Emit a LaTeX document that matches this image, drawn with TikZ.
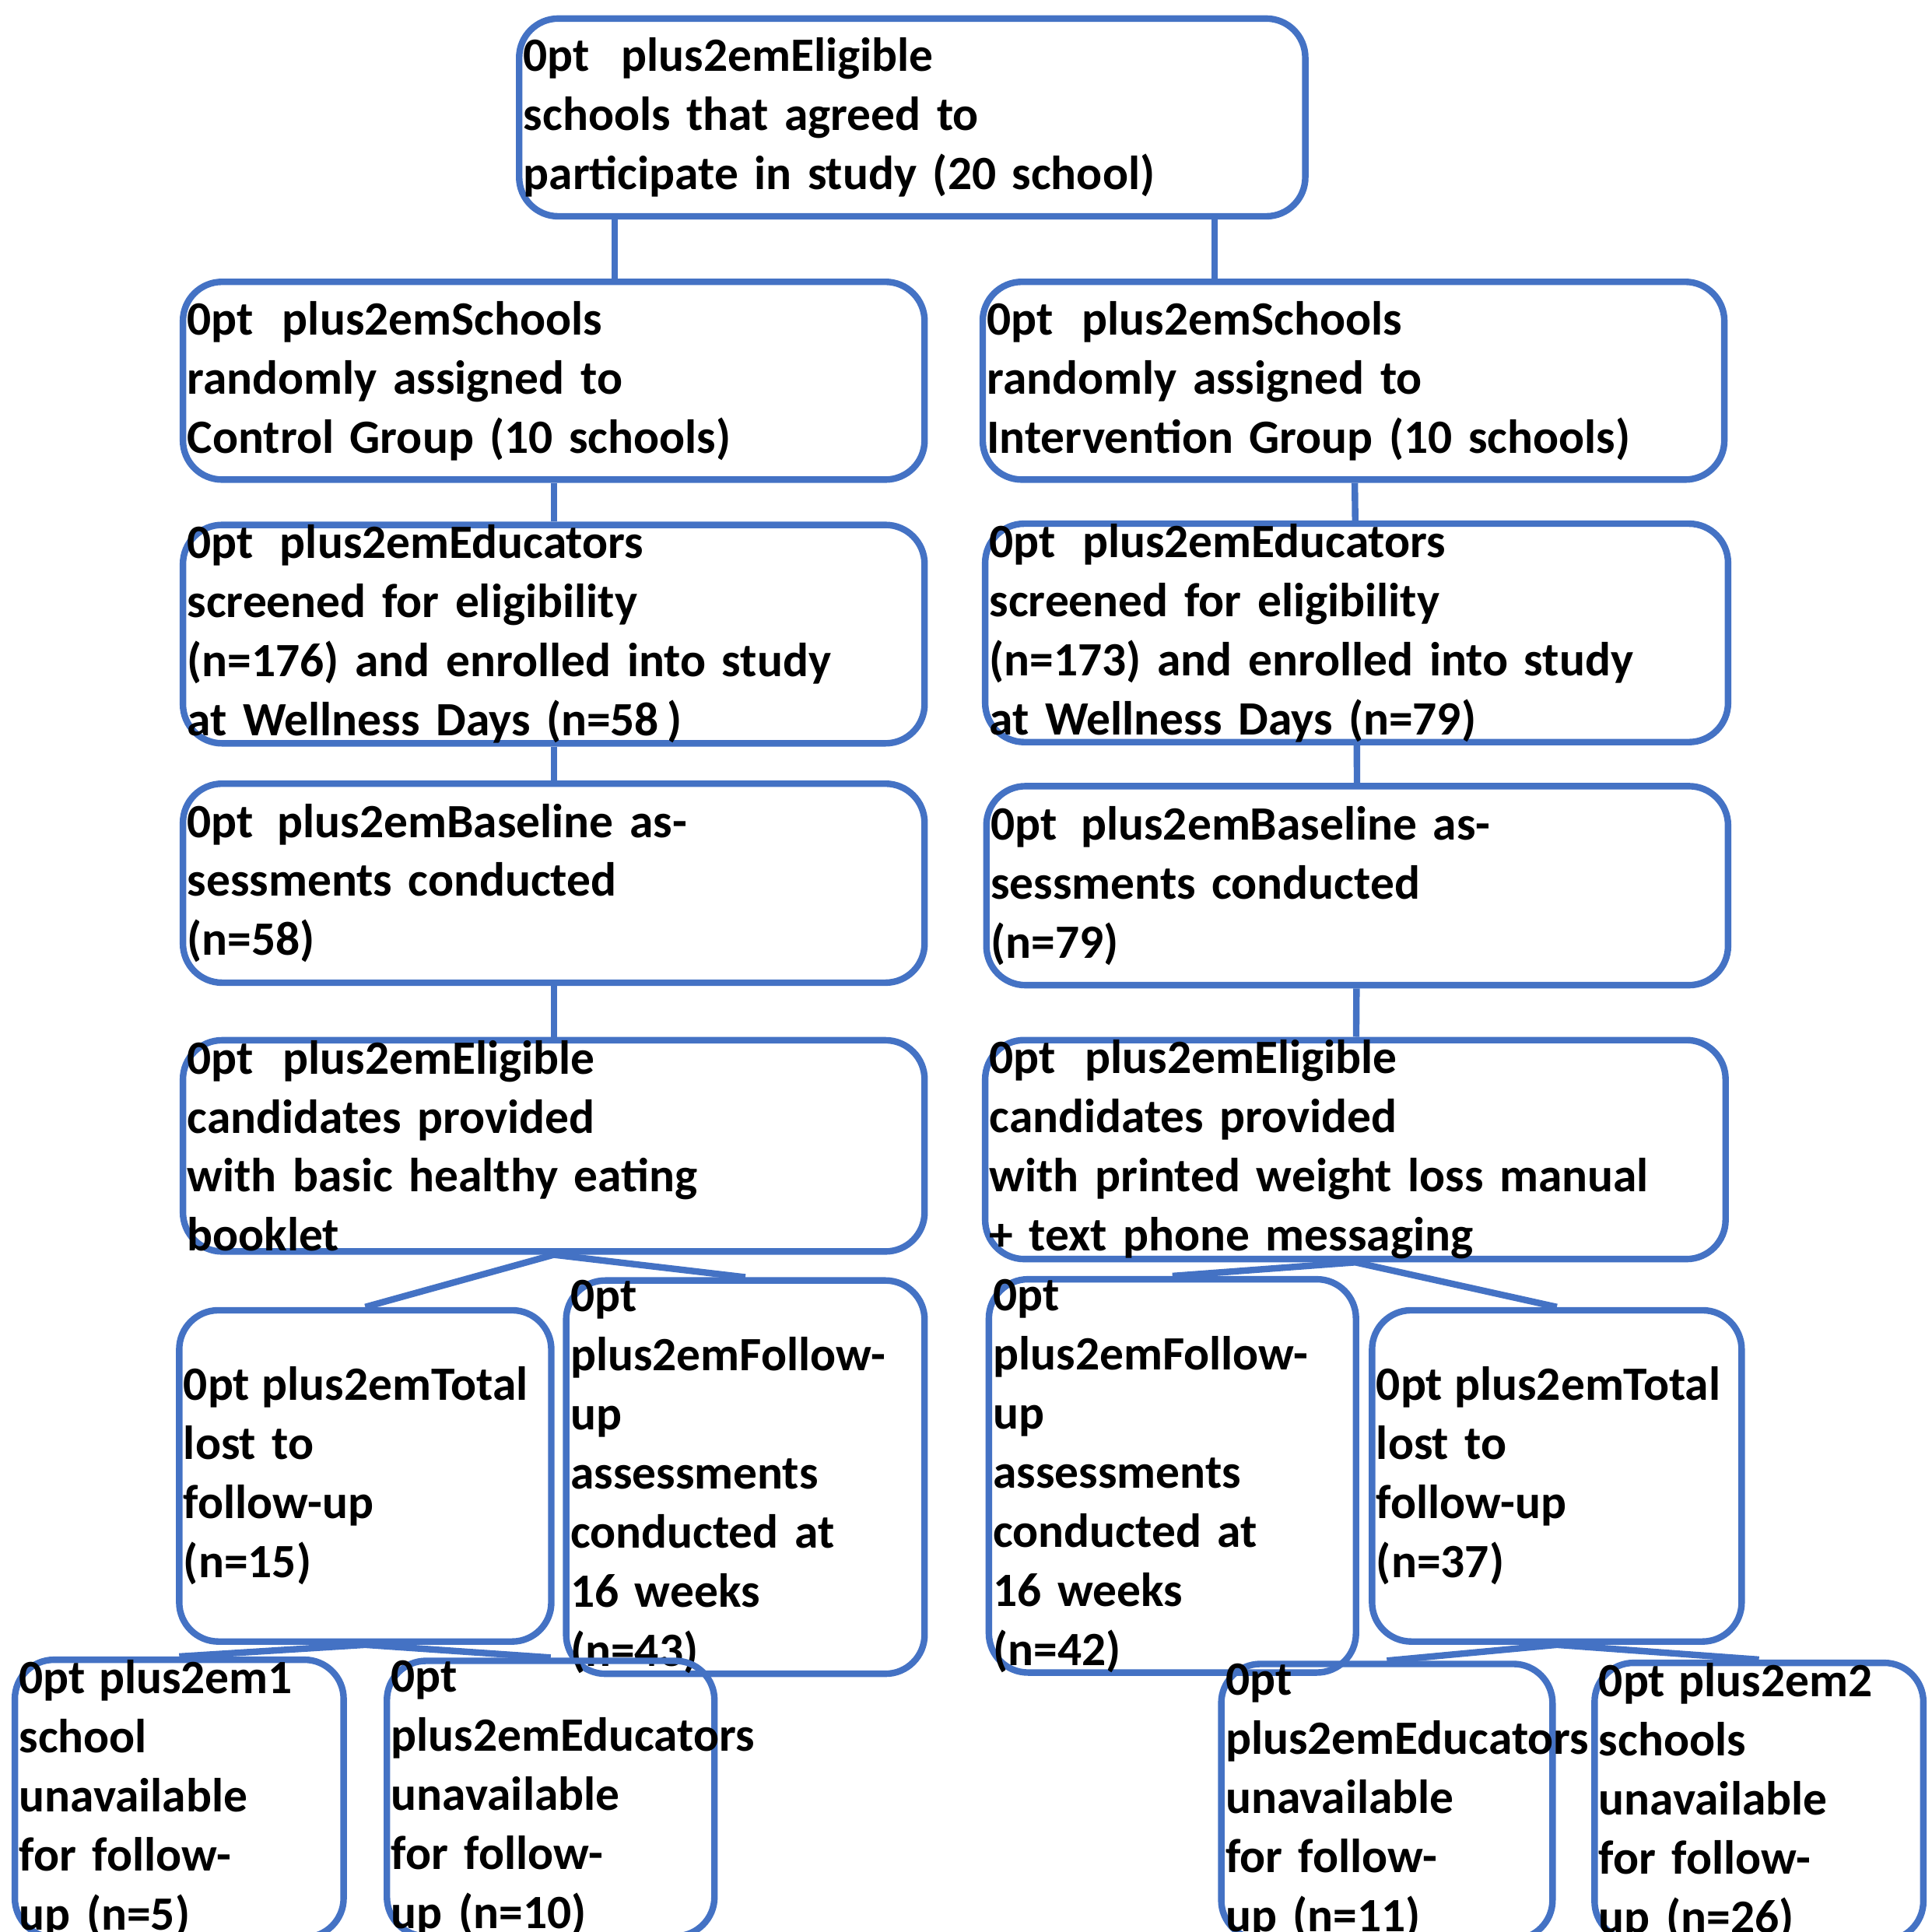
\documentclass[tikz,border=0pt]{standalone}
\usepackage{fontspec}
\setmainfont{Carlito}
\usetikzlibrary{positioning}
\definecolor{boxblue}{HTML}{4472C4}
\begin{document}
\begin{tikzpicture}[x=0.01cm,y=-0.01cm,
  box/.style={draw=boxblue, line width=1.5pt, rounded corners=9pt, align=center,
    font=\fontsize{11}{13.6}\selectfont\bfseries\hyphenpenalty=10000\relax, inner sep=0pt},
  link/.style={draw=boxblue, line width=1.5pt}]
\useasboundingbox (0,0) rectangle (1563,1563);
\newcommand{\bx}[6]{\node (#1) [box, minimum width={(#4-#2)*0.01cm}, minimum height={(#5-#3)*0.01cm}, text width={(#4-#2)*0.01cm-2pt}] at ({(#2+#4)/2},{(#3+#5)/2}) {#6};}
\bx{top}{420}{15}{1056}{175}{Eligible schools that agreed to\\participate in study (20 school)}
\bx{ctl}{148}{228}{748}{388}{Schools randomly assigned to\\Control Group (10 schools)}
\bx{int}{795}{228}{1395}{388}{Schools randomly assigned to\\Intervention Group (10 schools)}
\bx{edl}{148}{434}{748}{592}{Educators screened for eligibility\\(n=176) and enrolled into study\\at Wellness Days (n=58\,)}
\bx{edr}{797}{432}{1398}{592}{Educators screened for eligibility\\(n=173) and enrolled into study\\at Wellness Days (n=79)}
\bx{bal}{148}{634}{748}{795}{Baseline assessments conducted\\(n=58)}
\bx{bar}{798}{636}{1398}{797}{Baseline assessments conducted\\(n=79)}
\bx{ell}{148}{848}{748}{1006}{Eligible candidates provided\\with basic healthy eating\\booklet}
\bx{elr}{797}{850}{1396}{1010}{Eligible candidates provided\\with printed weight loss manual\\+ text phone messaging}
\bx{lostl}{145}{1060}{446}{1328}{Total lost to\\follow-up\\(n=15)}
\bx{fupl}{458}{1060}{748}{1330}{Follow-up\\assessments\\conducted at\\16 weeks\\(n=43)}
\bx{fupr}{800}{1060}{1097}{1328}{Follow-up\\assessments\\conducted at\\16 weeks\\(n=42)}
\bx{lostr}{1110}{1060}{1409}{1328}{Total lost to\\follow-up\\(n=37)}
\bx{b1}{12}{1357}{278}{1553}{1 school\\unavailable\\for follow-\\up (n=5)}
\bx{b2}{313}{1357}{578}{1553}{Educators\\unavailable\\for follow-\\up (n=10)}
\bx{b3}{988}{1362}{1256}{1553}{Educators\\unavailable\\for follow-\\up (n=11)}
\bx{b4}{1290}{1362}{1556}{1553}{2 schools\\unavailable\\for follow-\\up (n=26)}
\draw[link] ([xshift=0.8cm]top.south west) -- ([xshift=0.8cm]top.south west |- ctl.north);
\draw[link] ([xshift=-0.76cm]top.south east) -- ([xshift=-0.76cm]top.south east |- int.north);
\draw[link] (ctl) -- (edl);
\draw[link] (edl) -- (bal);
\draw[link] (bal) -- (ell);
\draw[link] (int) -- (edr);
\draw[link] (edr) -- (bar);
\draw[link] (bar) -- (elr);
\draw[link] (lostl.north) -- (ell.south) -- (fupl.north);
\draw[link] (fupr.north) -- (elr.south) -- (lostr.north);
\draw[link] (b1.north) -- (lostl.south) -- (b2.north);
\draw[link] (b3.north) -- (lostr.south) -- (b4.north);
\end{tikzpicture}
\end{document}
